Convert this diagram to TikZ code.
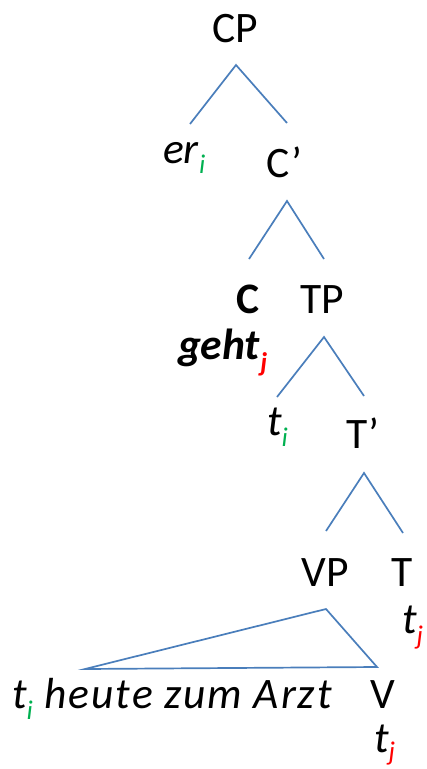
\documentclass[tikz,border=0pt]{standalone}
\usepackage{fontspec}
\setmainfont{Carlito}
\newfontfamily\widit{Carlito}[LetterSpace=4.5]
\definecolor{lineblue}{HTML}{4A7EBB}
\definecolor{idxgreen}{HTML}{00B050}
\definecolor{idxred}{HTML}{FF0000}
\newcommand{\mysub}[3][11bp]{\raisebox{-#1}{\fontsize{27bp}{27bp}\selectfont\color{#2}#3}}
\begin{document}
\begin{tikzpicture}[x=1bp,y=-1bp,
  lbl/.style={inner sep=0pt,outer sep=0pt,font=\fontsize{43.5bp}{50bp}\selectfont},
  branch/.style={draw=lineblue,line width=1.7bp,line join=miter}]
\useasboundingbox (0,0) rectangle (426,769);
% labels
\node[lbl,anchor=base] (cp) at (235,43) {CP};
\node[lbl,anchor=base west] (er) at (163,163) {\textit{er}\mysub[10bp]{idxgreen}{\textit{i}}};
\node[lbl,anchor=base west] (cbar) at (266,177) {C’};
\node[lbl,anchor=base] (c) at (248.5,313) {\textbf{C}};
\node[lbl,anchor=base] (tp) at (322.5,313) {TP};
\node[lbl,anchor=base west] (geht) at (178,359) {\textbf{\textit{geht}}\mysub[12bp]{idxred}{\textbf{\textit{j}}}};
\node[lbl,anchor=base west] (ti) at (267,435) {\textit{t}\mysub{idxgreen}{\textit{i}}};
\node[lbl,anchor=base west] (tbar) at (346,448) {T’};
\node[lbl,anchor=base] (vp) at (325.5,586) {VP};
\node[lbl,anchor=base] (t) at (402.5,586) {T};
\node[lbl,anchor=base west] (ttj) at (402,633) {\textit{t}\mysub{idxred}{\textit{j}}};
\node[lbl,anchor=base west] (comp) at (12,708) {\textit{t}\mysub{idxgreen}{\textit{i}}{\widit\itshape\ heute zum Arzt}};
\node[lbl,anchor=base] (v) at (382.5,708) {V};
\node[lbl,anchor=base west] (vtj) at (374,752) {\textit{t}\mysub[8.5bp]{idxred}{\textit{j}}};
% branch points
\coordinate (cp-top) at (236,65);
\coordinate (cp-l) at (190,124);
\coordinate (cp-r) at (287,123);
\coordinate (cb-top) at (287,201);
\coordinate (cb-l) at (249,259);
\coordinate (cb-r) at (324,259);
\coordinate (tp-top) at (324,337);
\coordinate (tp-l) at (277,397);
\coordinate (tp-r) at (364,396);
\coordinate (tb-top) at (364,473);
\coordinate (tb-l) at (326,531);
\coordinate (tb-r) at (403,533);
\coordinate (vp-top) at (326,609);
\coordinate (vp-l) at (85,669);
\coordinate (vp-r) at (377,667);
% branches
\draw[branch] (cp-l) -- (cp-top) -- (cp-r);
\draw[branch] (cb-l) -- (cb-top) -- (cb-r);
\draw[branch] (tp-l) -- (tp-top) -- (tp-r);
\draw[branch] (tb-l) -- (tb-top) -- (tb-r);
\draw[branch] (vp-top) -- (vp-l) -- (vp-r) -- cycle;
\end{tikzpicture}
\end{document}
